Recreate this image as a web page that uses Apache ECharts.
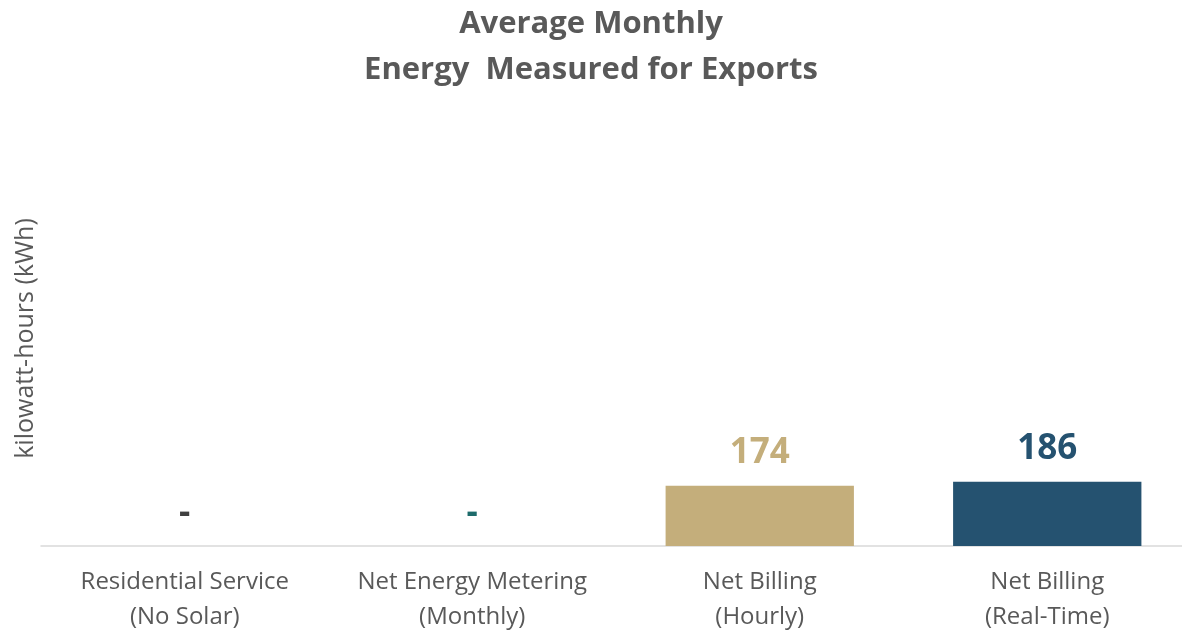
<!DOCTYPE html>
<html>
<head>
<meta charset="utf-8">
<script src="https://cdn.jsdelivr.net/npm/echarts@6/dist/echarts.min.js"></script>
<style>
  html, body { margin: 0; padding: 0; background: #fff; }
  #chart { width: 1182px; height: 632px; }
</style>
</head>
<body>
<div id="chart"></div>
<script>
  // categories and values
  const categories = [
    'Residential Service\n(No Solar)',
    'Net Energy Metering\n(Monthly)',
    'Net Billing\n(Hourly)',
    'Net Billing\n(Real-Time)'
  ]
  const exportsKwh = [0, 0, 174, 186]
  const barColors = ['#404040', '#1d6b6b', '#c4ae7b', '#255270']

  const chart = echarts.init(document.getElementById('chart'))
  const font = '"Open Sans", "Noto Sans", sans-serif'

  const option = {
    animation: false,
    title: {
      text: 'Average Monthly\nEnergy  Measured for Exports',
      left: 'center',
      top: -4,
      textStyle: {
        color: '#595959',
        fontSize: 31,
        fontWeight: 'bold',
        fontFamily: font,
        lineHeight: 46
      }
    },
    grid: {
      left: 41,
      width: 1150,
      top: 131,
      bottom: 86,
      outerBoundsMode: 'none'
    },
    xAxis: {
      type: 'category',
      data: categories,
      axisLine: { lineStyle: { color: '#d9d9d9', width: 1.5 } },
      axisTick: { show: false },
      axisLabel: {
        color: '#595959',
        fontSize: 24,
        fontFamily: font,
        lineHeight: 35,
        margin: 19,
        interval: 0
      }
    },
    yAxis: {
      type: 'value',
      min: 0,
      max: 1200,
      name: 'kilowatt-hours (kWh)',
      nameLocation: 'middle',
      nameGap: 3,
      nameTextStyle: {
        color: '#595959',
        fontSize: 25,
        fontFamily: font
      },
      axisLine: { show: false },
      axisTick: { show: false },
      axisLabel: { show: false },
      splitLine: { show: false }
    },
    series: [
      {
        type: 'bar',
        barWidth: '65.5%',
        data: exportsKwh.map((v, i) => ({
          value: v,
          itemStyle: { color: barColors[i] },
          label: { color: barColors[i] }
        })),
        label: {
          show: true,
          position: 'top',
          distance: 15,
          fontSize: 35,
          fontWeight: 'bold',
          fontFamily: font,
          formatter: p => (p.value === 0 ? '-' : p.value)
        }
      }
    ]
  }
  chart.setOption(option)
</script>
</body>
</html>
